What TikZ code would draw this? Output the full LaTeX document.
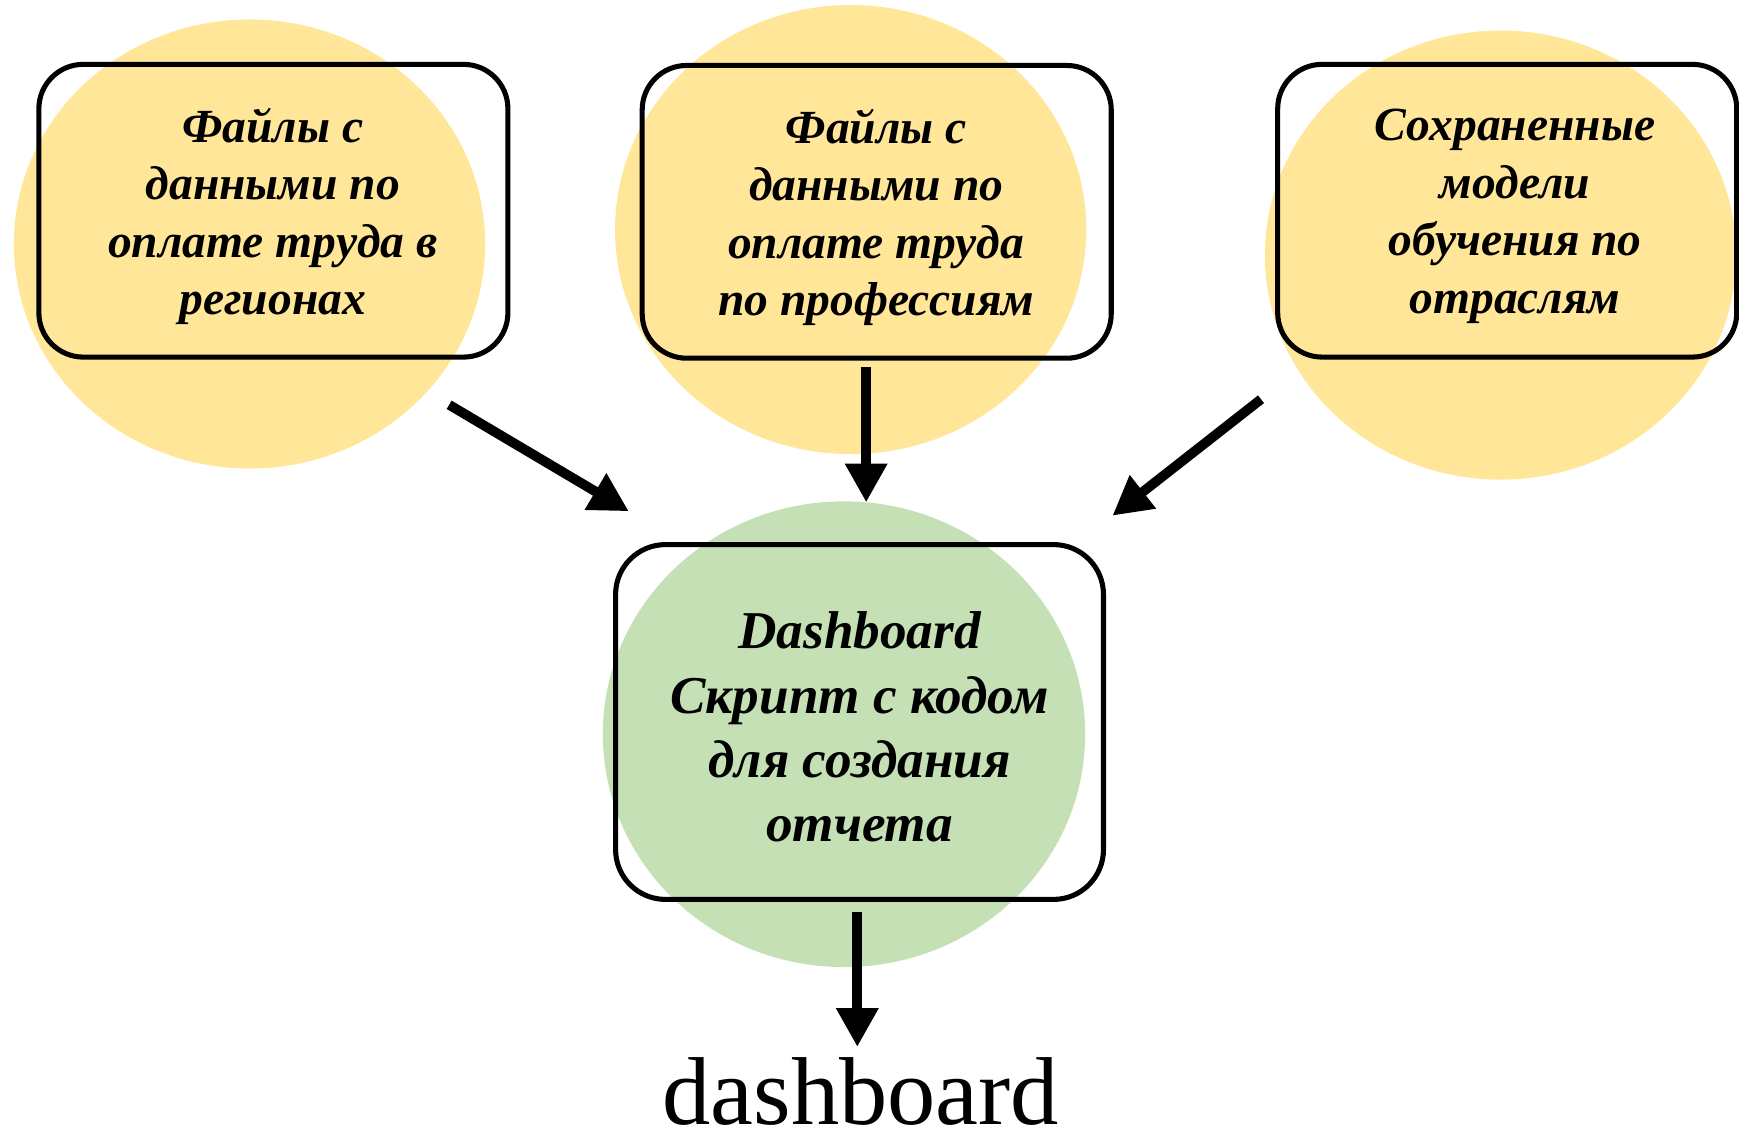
\documentclass[tikz,border=0pt]{standalone}
\usepackage{fontspec}
\setmainfont{Liberation Serif}
\usetikzlibrary{arrows.meta,shapes.geometric}
\definecolor{cyellow}{HTML}{FFE699}
\definecolor{cgreen}{HTML}{C5E0B4}
\tikzset{
  blob/.style={ellipse, draw=none, inner sep=0pt},
  boxnode/.style={draw=black, line width=2.6pt, rounded corners=0.8cm, inner sep=0pt},
  boxtext/.style={align=center, inner sep=0pt,
    font=\bfseries\itshape\fontsize{24.4}{29.5}\selectfont},
  flow/.style={line width=5pt, -{Triangle[length=0.7cm, width=0.72cm]}}
}
\begin{document}
\begin{tikzpicture}[x=0.02cm, y=-0.02cm]
\useasboundingbox (0,0) rectangle (1568,1024);
% background blobs
\node[blob, fill=cyellow, minimum width=8.5cm, minimum height=8.1cm] (c1) at (225,220) {};
\node[blob, fill=cyellow, minimum width=8.5cm, minimum height=8.1cm] (c2) at (767,207) {};
\node[blob, fill=cyellow, minimum width=8.5cm, minimum height=8.1cm] (c3) at (1353,230) {};
\node[blob, fill=cgreen, minimum width=8.7cm, minimum height=8.4cm] (c4) at (761,662) {};
% boxes
\node[boxnode, minimum width=8.46cm, minimum height=5.28cm] (b1) at (246.5,190) {};
\node[boxnode, minimum width=8.46cm, minimum height=5.28cm] (b2) at (790.5,191) {};
\node[boxnode, minimum width=8.28cm, minimum height=5.28cm] (b3) at (1359,190) {};
\node[boxnode, minimum width=8.8cm, minimum height=6.4cm, rounded corners=0.9cm] (b4) at (775,651) {};
% texts
\node[boxtext] (t1) at (246,195) {Файлы с\\данными по\\оплате труда в\\регионах};
\node[boxtext] (t2) at (790,196) {Файлы с\\данными по\\оплате труда\\по профессиям};
\node[boxtext] (t3) at (1366,195) {Сохраненные\\модели\\обучения по\\отраслям};
\node[boxtext, font=\bfseries\itshape\fontsize{27.3}{33}\selectfont] (t4) at (775,655.5)
  {Dashboard\\Скрипт с кодом\\для создания\\отчета};
\node[font=\fontsize{49.5}{56}\selectfont, anchor=base, inner sep=0pt] (out) at (776,1014) {dashboard};
% connector end points
\coordinate (s1) at (405,365);
\coordinate (e1) at (567,461);
\coordinate (s2) at (781,331);
\coordinate (e2) at (781,453);
\coordinate (s3) at (1137,360);
\coordinate (e3) at (1003,465);
\coordinate (s4) at (773,822);
\coordinate (e4) at (773,944);
\draw[flow] (s1) -- (e1);
\draw[flow] (s2) -- (e2);
\draw[flow] (s3) -- (e3);
\draw[flow] (s4) -- (e4);
\end{tikzpicture}
\end{document}
